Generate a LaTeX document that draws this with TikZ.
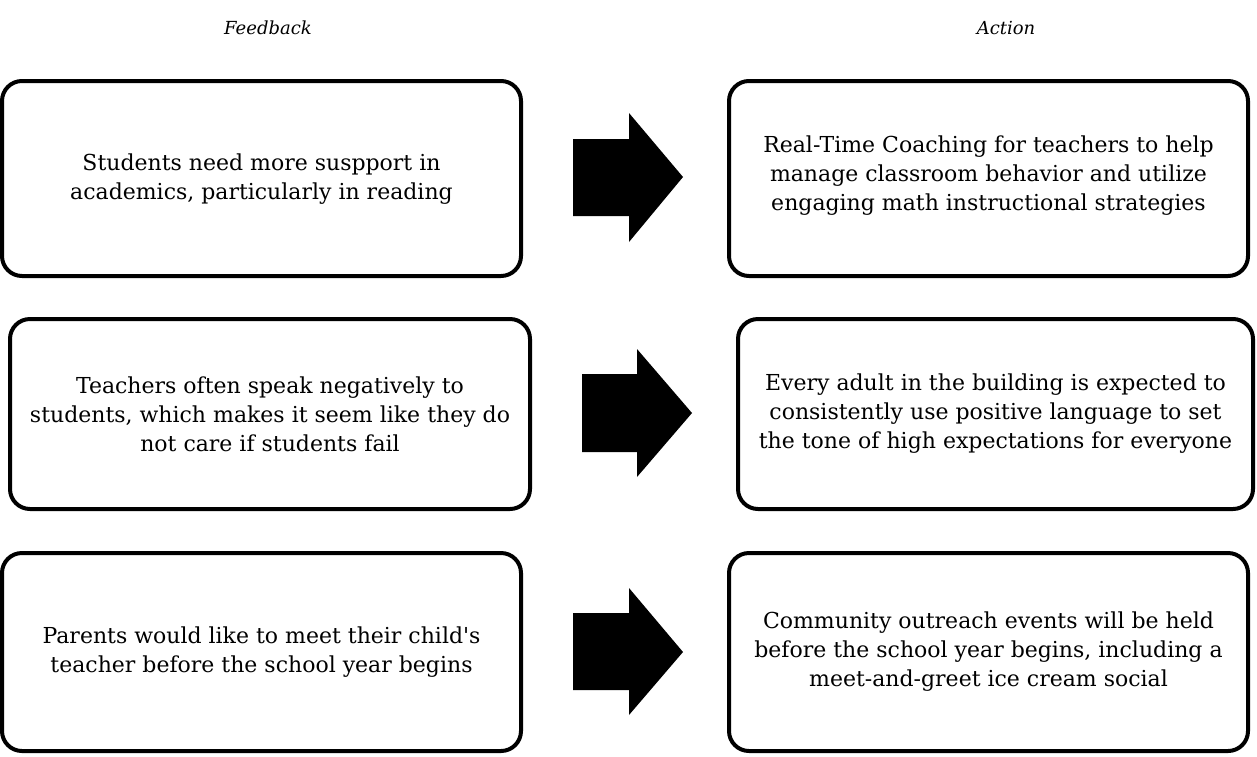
\documentclass[tikz,border=0pt]{standalone}
\usepackage{fontspec}
\setmainfont{DejaVu Serif}[Ligatures=TeXOff]
\begin{document}
\begin{tikzpicture}[x=1pt,y=-1pt,
  box/.style={draw=black,line width=4pt,rounded corners=20pt},
  txt/.style={align=center,font=\fontsize{22}{29}\selectfont,inner sep=0pt},
  ttl/.style={font=\fontsize{18}{22}\selectfont\itshape,inner sep=0pt},
  blockarrow/.style={fill=black}]
\useasboundingbox (0,0) rectangle (1257,756);
% titles
\node[ttl] (tf) at (268,28) {Feedback};
\node[ttl] (ta) at (1006,28) {Action};
% left boxes
\draw[box] (2,81) rectangle (521,276);
\node[txt] (f1) at (261.5,179) {Students need more suspport in\\academics, particularly in reading};
\draw[box] (10,319) rectangle (530,509);
\node[txt] (f2) at (270,414) {Teachers often speak negatively to\\students, which makes it seem like they do\\not care if students fail};
\draw[box] (2,553) rectangle (521,751);
\node[txt] (f3) at (261.5,652) {Parents would like to meet their child's\\teacher before the school year begins};
% right boxes
\draw[box] (729,81) rectangle (1248,276);
\node[txt] (a1) at (988.5,176) {Real-Time Coaching for teachers to help\\manage classroom behavior and utilize\\engaging math instructional strategies};
\draw[box] (738,319) rectangle (1253,509);
\node[txt] (a2) at (995.5,414) {Every adult in the building is expected to\\consistently use positive language to set\\the tone of high expectations for everyone};
\draw[box] (729,553) rectangle (1248,751);
\node[txt] (a3) at (988.5,652) {Community outreach events will be held\\before the school year begins, including a\\meet-and-greet ice cream social};
% block arrows
\fill[blockarrow] (573,139) -- (629,139) -- (629,113) -- (683,177) -- (629,242) -- (629,216) -- (573,216) -- cycle;
\fill[blockarrow] (582,374) -- (637,374) -- (637,349) -- (692,413) -- (637,477) -- (637,452) -- (582,452) -- cycle;
\fill[blockarrow] (573,613) -- (629,613) -- (629,588) -- (683,652) -- (629,715) -- (629,690) -- (573,690) -- cycle;
\end{tikzpicture}
\end{document}
